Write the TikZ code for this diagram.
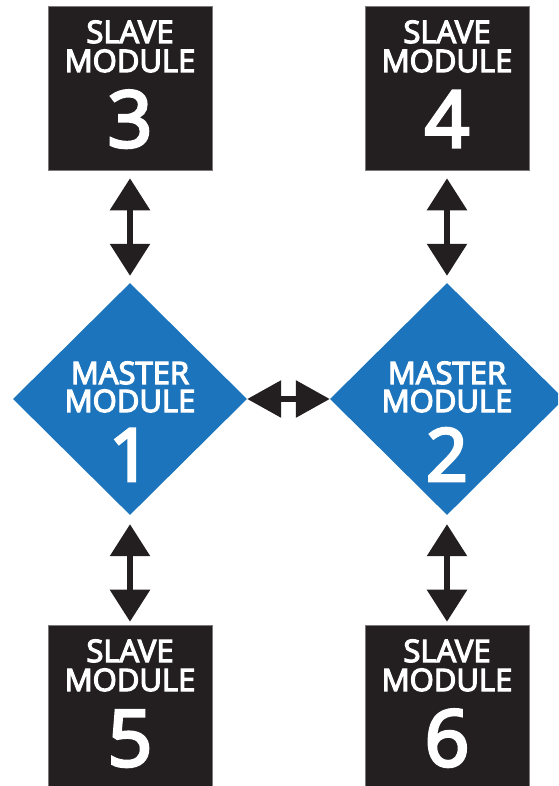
\documentclass[tikz,border=0pt]{standalone}
\usepackage{fontspec}
\setmainfont{Open Sans}
\newfontfamily\semib{Open Sans}[FakeBold=4]
\usetikzlibrary{shapes.geometric,arrows.meta}
\definecolor{boxblack}{HTML}{231F20}
\definecolor{masterblue}{HTML}{1C75BC}
\begin{document}
\begin{tikzpicture}[x=1pt,y=-1pt,
 slavebox/.style={rectangle,fill=boxblack,draw=boxblack!60,line width=0.6pt,minimum width=164pt,minimum height=164pt,inner sep=0pt},
 masterdia/.style={diamond,fill=masterblue,minimum width=234pt,minimum height=232pt,inner sep=0pt},
 lbl/.style={text=white,anchor=base,inner sep=0pt,font=\semib\fontsize{31}{31}\selectfont},
 num/.style={text=white,anchor=base,inner sep=0pt,font=\semib\fontsize{78}{78}\selectfont},
 mnum/.style={text=white,anchor=base,inner sep=0pt,font=\semib\fontsize{73}{73}\selectfont},
 vlink/.style={line width=6pt,draw=boxblack,{Triangle[width=39pt,length=32pt]}-{Triangle[width=39pt,length=32pt]}},
 hlink/.style={line width=6pt,draw=boxblack,{Triangle[width=36pt,length=34pt]}-{Triangle[width=36pt,length=34pt]}}
]
\useasboundingbox (0,0) rectangle (558,786);
\clip (0,0) rectangle (558,786);
% slave boxes
\node[slavebox] (s3) at (130,88) {};
\node[slavebox] (s4) at (447,88) {};
\node[slavebox] (s5) at (130,707) {};
\node[slavebox] (s6) at (447,707) {};
% master diamonds
\node[masterdia] (m1) at (130,399) {};
\node[masterdia] (m2) at (447,399) {};
% slave labels
\foreach \n/\x/\y in {3/130/6,4/447/6,5/130/625,6/447/625}{
  \node[lbl] (t\n a) at (\x,\y+37) {SLAVE};
  \node[lbl] (t\n b) at (\x,\y+66) {MODULE};
  \node[num] (t\n c) at (\x,\y+141) {\n};
}
% master labels
\foreach \n/\x in {1/130,2/447}{
  \node[lbl] (u\n a) at (\x,384) {MASTER};
  \node[lbl] (u\n b) at (\x,412) {MODULE};
  \node[mnum] (u\n c) at (\x,481) {\n};
}
% connectors
\draw[vlink,shorten <=8pt,shorten >=7pt] (s3.south) -- (m1.north);
\draw[vlink,shorten <=8pt,shorten >=7pt] (s4.south) -- (m2.north);
\draw[vlink,shorten <=9pt,shorten >=3pt] (m1.south) -- (s5.north);
\draw[vlink,shorten <=9pt,shorten >=3pt] (m2.south) -- (s6.north);
\draw[hlink] (m1.east) -- (m2.west);
\end{tikzpicture}
\end{document}
